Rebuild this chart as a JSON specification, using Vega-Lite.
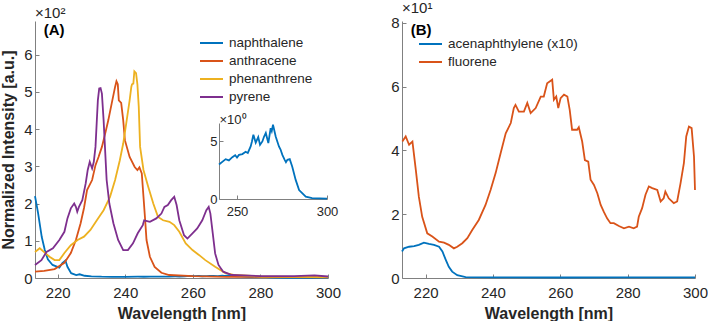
{
  "$schema": "https://vega.github.io/schema/vega-lite/v6.json",
  "autosize": {"type": "pad"},
  "padding": {"left": 0, "top": 0, "right": 0, "bottom": 0},
  "background": "white",
  "bounds": "flush",
  "spacing": 74,
  "config": {
    "font": "Liberation Sans",
    "view": {"stroke": null},
    "axis": {
      "grid": false,
      "domainColor": "#808080",
      "tickColor": "#808080",
      "labelColor": "#262626",
      "titleColor": "#262626",
      "labelFont": "Liberation Sans",
      "titleFont": "Liberation Sans",
      "labelFontSize": 15,
      "titleFontSize": 16,
      "titleFontWeight": "bold",
      "labelFlush": false,
      "tickSize": -4,
      "domainWidth": 1,
      "tickWidth": 1
    },
    "axisX": {"labelPadding": 11, "titlePadding": 5},
    "axisY": {"labelPadding": 7, "titlePadding": 7},
    "legend": {
      "orient": "none",
      "labelFont": "Liberation Sans",
      "labelFontSize": 13.5,
      "labelColor": "#262626",
      "symbolType": "M-1.28,0H1.28",
      "symbolStrokeWidth": 2,
      "symbolSize": 324,
      "rowPadding": 1,
      "labelOffset": 7.5
    },
    "title": {
      "font": "Liberation Sans",
      "fontSize": 15,
      "fontWeight": "normal",
      "color": "#262626",
      "anchor": "start",
      "frame": "group",
      "offset": 0,
      "dy": 4
    }
  },
  "datasets": {
    "panelA": [
      {"compound": "naphthalene", "wavelength": 213.3, "intensity": 220},
      {"compound": "naphthalene", "wavelength": 214.2, "intensity": 175},
      {"compound": "naphthalene", "wavelength": 215.3, "intensity": 110},
      {"compound": "naphthalene", "wavelength": 216.2, "intensity": 75},
      {"compound": "naphthalene", "wavelength": 217.1, "intensity": 50},
      {"compound": "naphthalene", "wavelength": 218.5, "intensity": 35},
      {"compound": "naphthalene", "wavelength": 220.5, "intensity": 28},
      {"compound": "naphthalene", "wavelength": 221.4, "intensity": 40},
      {"compound": "naphthalene", "wavelength": 222.3, "intensity": 47},
      {"compound": "naphthalene", "wavelength": 222.9, "intensity": 30},
      {"compound": "naphthalene", "wavelength": 224.0, "intensity": 13},
      {"compound": "naphthalene", "wavelength": 225.5, "intensity": 8},
      {"compound": "naphthalene", "wavelength": 226.5, "intensity": 10},
      {"compound": "naphthalene", "wavelength": 228.0, "intensity": 6},
      {"compound": "naphthalene", "wavelength": 230.0, "intensity": 4.5},
      {"compound": "naphthalene", "wavelength": 233.0, "intensity": 3.5},
      {"compound": "naphthalene", "wavelength": 236.0, "intensity": 3.2},
      {"compound": "naphthalene", "wavelength": 240.0, "intensity": 3.0},
      {"compound": "naphthalene", "wavelength": 243.7, "intensity": 3.46},
      {"compound": "naphthalene", "wavelength": 245.5, "intensity": 3.35},
      {"compound": "naphthalene", "wavelength": 247.4, "intensity": 3.63},
      {"compound": "naphthalene", "wavelength": 249.0, "intensity": 3.8},
      {"compound": "naphthalene", "wavelength": 250.0, "intensity": 3.6},
      {"compound": "naphthalene", "wavelength": 251.1, "intensity": 3.83},
      {"compound": "naphthalene", "wavelength": 253.0, "intensity": 3.9},
      {"compound": "naphthalene", "wavelength": 254.8, "intensity": 4.1},
      {"compound": "naphthalene", "wavelength": 256.0, "intensity": 4.0},
      {"compound": "naphthalene", "wavelength": 257.6, "intensity": 4.56},
      {"compound": "naphthalene", "wavelength": 258.3, "intensity": 5.0},
      {"compound": "naphthalene", "wavelength": 259.1, "intensity": 5.58},
      {"compound": "naphthalene", "wavelength": 260.4, "intensity": 4.9},
      {"compound": "naphthalene", "wavelength": 261.8, "intensity": 5.38},
      {"compound": "naphthalene", "wavelength": 262.8, "intensity": 4.7},
      {"compound": "naphthalene", "wavelength": 264.1, "intensity": 5.0},
      {"compound": "naphthalene", "wavelength": 265.0, "intensity": 5.4},
      {"compound": "naphthalene", "wavelength": 266.0, "intensity": 5.73},
      {"compound": "naphthalene", "wavelength": 267.4, "intensity": 4.86},
      {"compound": "naphthalene", "wavelength": 268.7, "intensity": 6.16},
      {"compound": "naphthalene", "wavelength": 269.3, "intensity": 5.9},
      {"compound": "naphthalene", "wavelength": 270.0, "intensity": 6.45},
      {"compound": "naphthalene", "wavelength": 271.5, "intensity": 5.43},
      {"compound": "naphthalene", "wavelength": 272.4, "intensity": 5.0},
      {"compound": "naphthalene", "wavelength": 273.3, "intensity": 4.56},
      {"compound": "naphthalene", "wavelength": 274.2, "intensity": 4.3},
      {"compound": "naphthalene", "wavelength": 275.2, "intensity": 3.83},
      {"compound": "naphthalene", "wavelength": 276.5, "intensity": 3.4},
      {"compound": "naphthalene", "wavelength": 277.2, "intensity": 3.2},
      {"compound": "naphthalene", "wavelength": 278.0, "intensity": 3.4},
      {"compound": "naphthalene", "wavelength": 279.3, "intensity": 3.46},
      {"compound": "naphthalene", "wavelength": 280.7, "intensity": 2.8},
      {"compound": "naphthalene", "wavelength": 282.6, "intensity": 1.66},
      {"compound": "naphthalene", "wavelength": 284.5, "intensity": 0.78},
      {"compound": "naphthalene", "wavelength": 288.2, "intensity": 0.2},
      {"compound": "naphthalene", "wavelength": 291.7, "intensity": 0.08},
      {"compound": "naphthalene", "wavelength": 300.0, "intensity": 0.03},

      {"compound": "anthracene", "wavelength": 213.3, "intensity": 17},
      {"compound": "anthracene", "wavelength": 216.0, "intensity": 19},
      {"compound": "anthracene", "wavelength": 219.1, "intensity": 24},
      {"compound": "anthracene", "wavelength": 222.0, "intensity": 41},
      {"compound": "anthracene", "wavelength": 223.9, "intensity": 67},
      {"compound": "anthracene", "wavelength": 225.4, "intensity": 102},
      {"compound": "anthracene", "wavelength": 226.8, "intensity": 147},
      {"compound": "anthracene", "wavelength": 227.8, "intensity": 188},
      {"compound": "anthracene", "wavelength": 228.7, "intensity": 236},
      {"compound": "anthracene", "wavelength": 230.2, "intensity": 263},
      {"compound": "anthracene", "wavelength": 231.2, "intensity": 303},
      {"compound": "anthracene", "wavelength": 232.1, "intensity": 325},
      {"compound": "anthracene", "wavelength": 233.1, "intensity": 352},
      {"compound": "anthracene", "wavelength": 234.1, "intensity": 389},
      {"compound": "anthracene", "wavelength": 235.0, "intensity": 424},
      {"compound": "anthracene", "wavelength": 236.0, "intensity": 469},
      {"compound": "anthracene", "wavelength": 237.0, "intensity": 513},
      {"compound": "anthracene", "wavelength": 237.4, "intensity": 528},
      {"compound": "anthracene", "wavelength": 237.8, "intensity": 520},
      {"compound": "anthracene", "wavelength": 238.1, "intensity": 477},
      {"compound": "anthracene", "wavelength": 238.8, "intensity": 470},
      {"compound": "anthracene", "wavelength": 239.4, "intensity": 424},
      {"compound": "anthracene", "wavelength": 239.9, "intensity": 370},
      {"compound": "anthracene", "wavelength": 241.3, "intensity": 325},
      {"compound": "anthracene", "wavelength": 242.8, "intensity": 298},
      {"compound": "anthracene", "wavelength": 243.6, "intensity": 290},
      {"compound": "anthracene", "wavelength": 244.2, "intensity": 297},
      {"compound": "anthracene", "wavelength": 244.9, "intensity": 281},
      {"compound": "anthracene", "wavelength": 245.4, "intensity": 218},
      {"compound": "anthracene", "wavelength": 245.9, "intensity": 155},
      {"compound": "anthracene", "wavelength": 246.3, "intensity": 102},
      {"compound": "anthracene", "wavelength": 247.3, "intensity": 57},
      {"compound": "anthracene", "wavelength": 248.7, "intensity": 30},
      {"compound": "anthracene", "wavelength": 250.7, "intensity": 14},
      {"compound": "anthracene", "wavelength": 253.0, "intensity": 8},
      {"compound": "anthracene", "wavelength": 260.0, "intensity": 5},
      {"compound": "anthracene", "wavelength": 270.0, "intensity": 3},
      {"compound": "anthracene", "wavelength": 280.0, "intensity": 3},
      {"compound": "anthracene", "wavelength": 290.0, "intensity": 2.5},
      {"compound": "anthracene", "wavelength": 300.0, "intensity": 2},

      {"compound": "phenanthrene", "wavelength": 213.3, "intensity": 70},
      {"compound": "phenanthrene", "wavelength": 214.7, "intensity": 80},
      {"compound": "phenanthrene", "wavelength": 216.2, "intensity": 68},
      {"compound": "phenanthrene", "wavelength": 217.6, "intensity": 57},
      {"compound": "phenanthrene", "wavelength": 219.1, "intensity": 48},
      {"compound": "phenanthrene", "wavelength": 220.5, "intensity": 48},
      {"compound": "phenanthrene", "wavelength": 222.0, "intensity": 67},
      {"compound": "phenanthrene", "wavelength": 223.9, "intensity": 88},
      {"compound": "phenanthrene", "wavelength": 225.9, "intensity": 102},
      {"compound": "phenanthrene", "wavelength": 227.8, "intensity": 111},
      {"compound": "phenanthrene", "wavelength": 229.7, "intensity": 129},
      {"compound": "phenanthrene", "wavelength": 231.6, "intensity": 155},
      {"compound": "phenanthrene", "wavelength": 233.6, "intensity": 182},
      {"compound": "phenanthrene", "wavelength": 235.5, "intensity": 218},
      {"compound": "phenanthrene", "wavelength": 237.0, "intensity": 263},
      {"compound": "phenanthrene", "wavelength": 238.4, "intensity": 316},
      {"compound": "phenanthrene", "wavelength": 239.4, "intensity": 361},
      {"compound": "phenanthrene", "wavelength": 240.3, "intensity": 415},
      {"compound": "phenanthrene", "wavelength": 241.3, "intensity": 477},
      {"compound": "phenanthrene", "wavelength": 241.8, "intensity": 513},
      {"compound": "phenanthrene", "wavelength": 242.0, "intensity": 520},
      {"compound": "phenanthrene", "wavelength": 242.4, "intensity": 522},
      {"compound": "phenanthrene", "wavelength": 242.7, "intensity": 555},
      {"compound": "phenanthrene", "wavelength": 243.2, "intensity": 550},
      {"compound": "phenanthrene", "wavelength": 243.6, "intensity": 520},
      {"compound": "phenanthrene", "wavelength": 244.0, "intensity": 460},
      {"compound": "phenanthrene", "wavelength": 244.4, "intensity": 352},
      {"compound": "phenanthrene", "wavelength": 245.4, "intensity": 290},
      {"compound": "phenanthrene", "wavelength": 246.8, "intensity": 245},
      {"compound": "phenanthrene", "wavelength": 248.3, "intensity": 200},
      {"compound": "phenanthrene", "wavelength": 249.7, "intensity": 164},
      {"compound": "phenanthrene", "wavelength": 251.2, "intensity": 155},
      {"compound": "phenanthrene", "wavelength": 253.1, "intensity": 151},
      {"compound": "phenanthrene", "wavelength": 254.5, "intensity": 142},
      {"compound": "phenanthrene", "wavelength": 256.0, "intensity": 124},
      {"compound": "phenanthrene", "wavelength": 257.9, "intensity": 93},
      {"compound": "phenanthrene", "wavelength": 259.9, "intensity": 75},
      {"compound": "phenanthrene", "wavelength": 261.8, "intensity": 62},
      {"compound": "phenanthrene", "wavelength": 263.7, "intensity": 48},
      {"compound": "phenanthrene", "wavelength": 266.6, "intensity": 30},
      {"compound": "phenanthrene", "wavelength": 269.5, "intensity": 14},
      {"compound": "phenanthrene", "wavelength": 272.4, "intensity": 8},
      {"compound": "phenanthrene", "wavelength": 280.0, "intensity": 4},
      {"compound": "phenanthrene", "wavelength": 290.0, "intensity": 3},
      {"compound": "phenanthrene", "wavelength": 300.0, "intensity": 2},

      {"compound": "pyrene", "wavelength": 213.3, "intensity": 35},
      {"compound": "pyrene", "wavelength": 215.2, "intensity": 48},
      {"compound": "pyrene", "wavelength": 216.7, "intensity": 70},
      {"compound": "pyrene", "wavelength": 218.6, "intensity": 80},
      {"compound": "pyrene", "wavelength": 220.5, "intensity": 102},
      {"compound": "pyrene", "wavelength": 222.0, "intensity": 124},
      {"compound": "pyrene", "wavelength": 222.9, "intensity": 160},
      {"compound": "pyrene", "wavelength": 223.9, "intensity": 187},
      {"compound": "pyrene", "wavelength": 224.9, "intensity": 200},
      {"compound": "pyrene", "wavelength": 225.4, "intensity": 191},
      {"compound": "pyrene", "wavelength": 225.8, "intensity": 178},
      {"compound": "pyrene", "wavelength": 226.3, "intensity": 191},
      {"compound": "pyrene", "wavelength": 227.3, "intensity": 209},
      {"compound": "pyrene", "wavelength": 228.3, "intensity": 254},
      {"compound": "pyrene", "wavelength": 228.9, "intensity": 290},
      {"compound": "pyrene", "wavelength": 229.5, "intensity": 312},
      {"compound": "pyrene", "wavelength": 230.2, "intensity": 294},
      {"compound": "pyrene", "wavelength": 230.7, "intensity": 312},
      {"compound": "pyrene", "wavelength": 231.2, "intensity": 352},
      {"compound": "pyrene", "wavelength": 231.6, "intensity": 424},
      {"compound": "pyrene", "wavelength": 231.9, "intensity": 477},
      {"compound": "pyrene", "wavelength": 232.3, "intensity": 509},
      {"compound": "pyrene", "wavelength": 232.7, "intensity": 510},
      {"compound": "pyrene", "wavelength": 233.1, "intensity": 495},
      {"compound": "pyrene", "wavelength": 233.6, "intensity": 424},
      {"compound": "pyrene", "wavelength": 234.1, "intensity": 334},
      {"compound": "pyrene", "wavelength": 234.5, "intensity": 263},
      {"compound": "pyrene", "wavelength": 235.3, "intensity": 200},
      {"compound": "pyrene", "wavelength": 236.5, "intensity": 147},
      {"compound": "pyrene", "wavelength": 237.9, "intensity": 102},
      {"compound": "pyrene", "wavelength": 239.4, "intensity": 75},
      {"compound": "pyrene", "wavelength": 240.8, "intensity": 75},
      {"compound": "pyrene", "wavelength": 242.3, "intensity": 93},
      {"compound": "pyrene", "wavelength": 243.7, "intensity": 120},
      {"compound": "pyrene", "wavelength": 245.2, "intensity": 142},
      {"compound": "pyrene", "wavelength": 245.6, "intensity": 155},
      {"compound": "pyrene", "wavelength": 247.3, "intensity": 151},
      {"compound": "pyrene", "wavelength": 249.2, "intensity": 160},
      {"compound": "pyrene", "wavelength": 250.7, "intensity": 173},
      {"compound": "pyrene", "wavelength": 251.6, "intensity": 191},
      {"compound": "pyrene", "wavelength": 252.6, "intensity": 196},
      {"compound": "pyrene", "wavelength": 253.6, "intensity": 209},
      {"compound": "pyrene", "wavelength": 254.5, "intensity": 218},
      {"compound": "pyrene", "wavelength": 255.2, "intensity": 196},
      {"compound": "pyrene", "wavelength": 256.0, "intensity": 155},
      {"compound": "pyrene", "wavelength": 257.4, "intensity": 115},
      {"compound": "pyrene", "wavelength": 258.4, "intensity": 106},
      {"compound": "pyrene", "wavelength": 259.9, "intensity": 120},
      {"compound": "pyrene", "wavelength": 261.3, "intensity": 133},
      {"compound": "pyrene", "wavelength": 262.8, "intensity": 155},
      {"compound": "pyrene", "wavelength": 264.0, "intensity": 182},
      {"compound": "pyrene", "wavelength": 264.7, "intensity": 191},
      {"compound": "pyrene", "wavelength": 265.2, "intensity": 173},
      {"compound": "pyrene", "wavelength": 265.9, "intensity": 120},
      {"compound": "pyrene", "wavelength": 266.6, "intensity": 66},
      {"compound": "pyrene", "wavelength": 267.6, "intensity": 35},
      {"compound": "pyrene", "wavelength": 269.0, "intensity": 17},
      {"compound": "pyrene", "wavelength": 271.5, "intensity": 8},
      {"compound": "pyrene", "wavelength": 280.0, "intensity": 5},
      {"compound": "pyrene", "wavelength": 290.0, "intensity": 5},
      {"compound": "pyrene", "wavelength": 296.0, "intensity": 7},
      {"compound": "pyrene", "wavelength": 300.0, "intensity": 4}
    ],
    "panelB": [
      {"compound": "acenaphthylene (x10)", "wavelength": 213.0, "intensity": 8.3},
      {"compound": "acenaphthylene (x10)", "wavelength": 213.6, "intensity": 9.3},
      {"compound": "acenaphthylene (x10)", "wavelength": 215.1, "intensity": 9.8},
      {"compound": "acenaphthylene (x10)", "wavelength": 216.6, "intensity": 10.0},
      {"compound": "acenaphthylene (x10)", "wavelength": 218.0, "intensity": 10.4},
      {"compound": "acenaphthylene (x10)", "wavelength": 219.5, "intensity": 11.1},
      {"compound": "acenaphthylene (x10)", "wavelength": 221.0, "intensity": 10.7},
      {"compound": "acenaphthylene (x10)", "wavelength": 222.5, "intensity": 10.4},
      {"compound": "acenaphthylene (x10)", "wavelength": 224.0, "intensity": 9.8},
      {"compound": "acenaphthylene (x10)", "wavelength": 225.0, "intensity": 8.3},
      {"compound": "acenaphthylene (x10)", "wavelength": 226.0, "intensity": 5.7},
      {"compound": "acenaphthylene (x10)", "wavelength": 226.9, "intensity": 3.5},
      {"compound": "acenaphthylene (x10)", "wavelength": 227.9, "intensity": 2.0},
      {"compound": "acenaphthylene (x10)", "wavelength": 229.4, "intensity": 0.9},
      {"compound": "acenaphthylene (x10)", "wavelength": 231.9, "intensity": 0.3},
      {"compound": "acenaphthylene (x10)", "wavelength": 240.0, "intensity": 0.2},
      {"compound": "acenaphthylene (x10)", "wavelength": 260.0, "intensity": 0.15},
      {"compound": "acenaphthylene (x10)", "wavelength": 280.0, "intensity": 0.2},
      {"compound": "acenaphthylene (x10)", "wavelength": 300.0, "intensity": 0.2},

      {"compound": "fluorene", "wavelength": 213.1, "intensity": 42.8},
      {"compound": "fluorene", "wavelength": 214.1, "intensity": 44.4},
      {"compound": "fluorene", "wavelength": 215.1, "intensity": 41.8},
      {"compound": "fluorene", "wavelength": 216.1, "intensity": 42.8},
      {"compound": "fluorene", "wavelength": 217.1, "intensity": 33.9},
      {"compound": "fluorene", "wavelength": 218.0, "intensity": 25.5},
      {"compound": "fluorene", "wavelength": 219.0, "intensity": 19.2},
      {"compound": "fluorene", "wavelength": 220.5, "intensity": 14.0},
      {"compound": "fluorene", "wavelength": 222.0, "intensity": 13.0},
      {"compound": "fluorene", "wavelength": 224.0, "intensity": 11.4},
      {"compound": "fluorene", "wavelength": 225.5, "intensity": 11.1},
      {"compound": "fluorene", "wavelength": 226.9, "intensity": 10.4},
      {"compound": "fluorene", "wavelength": 228.4, "intensity": 9.3},
      {"compound": "fluorene", "wavelength": 229.4, "intensity": 9.8},
      {"compound": "fluorene", "wavelength": 230.9, "intensity": 10.9},
      {"compound": "fluorene", "wavelength": 232.4, "intensity": 12.5},
      {"compound": "fluorene", "wavelength": 233.9, "intensity": 15.1},
      {"compound": "fluorene", "wavelength": 235.8, "intensity": 18.2},
      {"compound": "fluorene", "wavelength": 237.8, "intensity": 22.9},
      {"compound": "fluorene", "wavelength": 239.3, "intensity": 27.6},
      {"compound": "fluorene", "wavelength": 240.8, "intensity": 32.9},
      {"compound": "fluorene", "wavelength": 242.3, "intensity": 39.2},
      {"compound": "fluorene", "wavelength": 243.8, "intensity": 45.4},
      {"compound": "fluorene", "wavelength": 245.3, "intensity": 48.6},
      {"compound": "fluorene", "wavelength": 246.2, "intensity": 53.3},
      {"compound": "fluorene", "wavelength": 246.7, "intensity": 54.3},
      {"compound": "fluorene", "wavelength": 247.7, "intensity": 52.2},
      {"compound": "fluorene", "wavelength": 249.2, "intensity": 52.2},
      {"compound": "fluorene", "wavelength": 250.2, "intensity": 54.9},
      {"compound": "fluorene", "wavelength": 251.2, "intensity": 51.7},
      {"compound": "fluorene", "wavelength": 252.7, "intensity": 53.3},
      {"compound": "fluorene", "wavelength": 254.2, "intensity": 56.9},
      {"compound": "fluorene", "wavelength": 255.1, "intensity": 56.9},
      {"compound": "fluorene", "wavelength": 256.1, "intensity": 61.1},
      {"compound": "fluorene", "wavelength": 257.6, "intensity": 62.2},
      {"compound": "fluorene", "wavelength": 258.1, "intensity": 55.9},
      {"compound": "fluorene", "wavelength": 258.8, "intensity": 56.9},
      {"compound": "fluorene", "wavelength": 259.4, "intensity": 53.3},
      {"compound": "fluorene", "wavelength": 260.1, "intensity": 56.4},
      {"compound": "fluorene", "wavelength": 261.1, "intensity": 57.5},
      {"compound": "fluorene", "wavelength": 262.1, "intensity": 56.9},
      {"compound": "fluorene", "wavelength": 262.8, "intensity": 52.7},
      {"compound": "fluorene", "wavelength": 263.5, "intensity": 46.5},
      {"compound": "fluorene", "wavelength": 265.0, "intensity": 46.5},
      {"compound": "fluorene", "wavelength": 265.5, "intensity": 47.3},
      {"compound": "fluorene", "wavelength": 266.5, "intensity": 42.8},
      {"compound": "fluorene", "wavelength": 267.3, "intensity": 37.0},
      {"compound": "fluorene", "wavelength": 268.3, "intensity": 36.5},
      {"compound": "fluorene", "wavelength": 269.0, "intensity": 30.8},
      {"compound": "fluorene", "wavelength": 270.0, "intensity": 29.2},
      {"compound": "fluorene", "wavelength": 271.0, "intensity": 26.6},
      {"compound": "fluorene", "wavelength": 272.0, "intensity": 22.9},
      {"compound": "fluorene", "wavelength": 272.9, "intensity": 20.8},
      {"compound": "fluorene", "wavelength": 273.9, "intensity": 18.7},
      {"compound": "fluorene", "wavelength": 274.9, "intensity": 17.2},
      {"compound": "fluorene", "wavelength": 275.9, "intensity": 17.2},
      {"compound": "fluorene", "wavelength": 277.4, "intensity": 16.3},
      {"compound": "fluorene", "wavelength": 278.9, "intensity": 15.6},
      {"compound": "fluorene", "wavelength": 280.4, "intensity": 16.1},
      {"compound": "fluorene", "wavelength": 281.8, "intensity": 15.6},
      {"compound": "fluorene", "wavelength": 282.8, "intensity": 16.1},
      {"compound": "fluorene", "wavelength": 283.3, "intensity": 19.2},
      {"compound": "fluorene", "wavelength": 284.3, "intensity": 21.9},
      {"compound": "fluorene", "wavelength": 285.3, "intensity": 26.1},
      {"compound": "fluorene", "wavelength": 286.3, "intensity": 28.7},
      {"compound": "fluorene", "wavelength": 287.3, "intensity": 28.2},
      {"compound": "fluorene", "wavelength": 288.8, "intensity": 27.6},
      {"compound": "fluorene", "wavelength": 289.8, "intensity": 24.0},
      {"compound": "fluorene", "wavelength": 290.7, "intensity": 25.0},
      {"compound": "fluorene", "wavelength": 291.2, "intensity": 27.1},
      {"compound": "fluorene", "wavelength": 292.2, "intensity": 25.0},
      {"compound": "fluorene", "wavelength": 293.7, "intensity": 23.5},
      {"compound": "fluorene", "wavelength": 294.7, "intensity": 24.0},
      {"compound": "fluorene", "wavelength": 295.7, "intensity": 29.7},
      {"compound": "fluorene", "wavelength": 296.7, "intensity": 36.0},
      {"compound": "fluorene", "wavelength": 297.4, "intensity": 44.4},
      {"compound": "fluorene", "wavelength": 298.2, "intensity": 47.5},
      {"compound": "fluorene", "wavelength": 299.0, "intensity": 47.0},
      {"compound": "fluorene", "wavelength": 299.7, "intensity": 38.1},
      {"compound": "fluorene", "wavelength": 300.0, "intensity": 27.6}
    ]
  },
  "hconcat": [
    {
      "width": 293,
      "height": 257,
      "title": {"text": "×10²"},
      "layer": [
        {
          "layer": [
            {
              "data": {"name": "panelA"},
              "mark": {"type": "line", "strokeWidth": 1.8},
              "encoding": {
                "x": {
                  "field": "wavelength",
                  "type": "quantitative",
                  "scale": {"domain": [213.3, 300], "nice": false, "zero": false},
                  "axis": {"values": [220, 240, 260, 280, 300], "title": "Wavelength [nm]"}
                },
                "y": {
                  "field": "intensity",
                  "type": "quantitative",
                  "scale": {"domain": [0, 690], "nice": false},
                  "axis": {
                    "values": [0, 100, 200, 300, 400, 500, 600],
                    "labelExpr": "datum.value / 100",
                    "title": "Normalized Intensity [a.u.]"
                  }
                },
                "color": {
                  "field": "compound",
                  "type": "nominal",
                  "scale": {
                    "domain": ["naphthalene", "anthracene", "phenanthrene", "pyrene"],
                    "range": ["#0072BD", "#D95319", "#EDB120", "#7E2F8E"]
                  },
                  "legend": {"title": null, "legendX": 166.5, "legendY": 12}
                }
              }
            },
            {
              "data": {"values": [{}]},
              "mark": {"type": "text", "text": "(A)", "fontWeight": "bold", "fontSize": 15, "align": "left", "baseline": "middle", "color": "#000000"},
              "encoding": {
                "x": {"datum": 215.9, "type": "quantitative"},
                "y": {"datum": 665, "type": "quantitative"}
              }
            }
          ]
        },
        {
          "data": {"name": "panelA"},
          "transform": [{"filter": "datum.compound === 'naphthalene' && datum.wavelength >= 240"}],
          "mark": {"type": "line", "strokeWidth": 1.8, "color": "#0072BD"},
          "encoding": {
            "x": {
              "field": "wavelength",
              "type": "quantitative",
              "scale": {"domain": [240, 300], "nice": false, "zero": false, "range": [184, 292]},
              "axis": {"orient": "bottom", "offset": -79, "values": [250, 300], "labelFontSize": 13, "labelPadding": 10, "title": null}
            },
            "y": {
              "field": "intensity",
              "type": "quantitative",
              "scale": {"domain": [0, 6.6], "nice": false, "range": [178, 102]},
              "axis": {
                "orient": "left",
                "offset": -184,
                "values": [0, 5],
                "labelFontSize": 13,
                "labelPadding": 6,
                "title": "×10⁰",
                "titleFontWeight": "normal",
                "titleFontSize": 13,
                "titleAngle": 0,
                "titleAlign": "left",
                "titleBaseline": "alphabetic",
                "titleX": 0,
                "titleY": 102
              }
            }
          }
        }
      ],
      "resolve": {"scale": {"x": "independent", "y": "independent"}}
    },
    {
      "width": 293,
      "height": 257,
      "title": {"text": "×10¹"},
      "layer": [
        {
          "data": {"name": "panelB"},
          "mark": {"type": "line", "strokeWidth": 1.8},
          "encoding": {
            "x": {
              "field": "wavelength",
              "type": "quantitative",
              "scale": {"domain": [213, 300], "nice": false, "zero": false},
              "axis": {"values": [220, 240, 260, 280, 300], "title": "Wavelength [nm]"}
            },
            "y": {
              "field": "intensity",
              "type": "quantitative",
              "scale": {"domain": [0, 80.6], "nice": false},
              "axis": {
                "values": [0, 20, 40, 60, 80],
                "labelExpr": "datum.value / 10",
                "title": null
              }
            },
            "color": {
              "field": "compound",
              "type": "nominal",
              "scale": {
                "domain": ["acenaphthylene (x10)", "fluorene"],
                "range": ["#0072BD", "#D95319"]
              },
              "legend": {"title": null, "legendX": 18.5, "legendY": 13}
            }
          }
        },
        {
          "data": {"values": [{}]},
          "mark": {"type": "text", "text": "(B)", "fontWeight": "bold", "fontSize": 15, "align": "left", "baseline": "middle", "color": "#000000"},
          "encoding": {
            "x": {"datum": 215.6, "type": "quantitative"},
            "y": {"datum": 77.9, "type": "quantitative"}
          }
        }
      ]
    }
  ],
  "resolve": {"scale": {"color": "independent"}}
}
